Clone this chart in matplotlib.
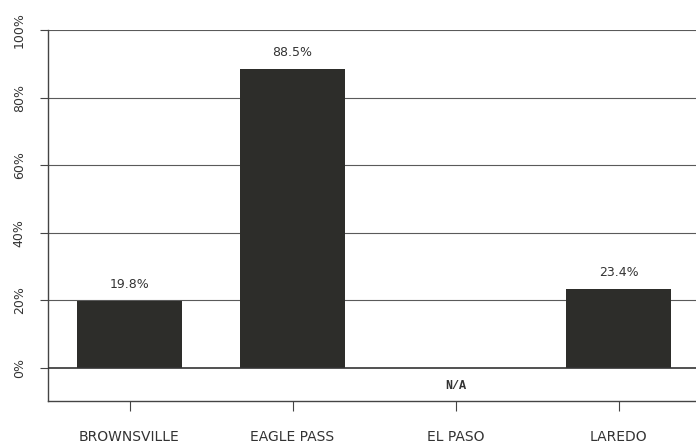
import matplotlib.pyplot as plt

cities = ["BROWNSVILLE", "EAGLE PASS", "EL PASO", "LAREDO"]
values = [19.8, 88.5, None, 23.4]
labels = ["19.8%", "88.5%", "N/A", "23.4%"]
yticks = [0, 20, 40, 60, 80, 100]
ytick_labels = ["0%", "20%", "40%", "60%", "80%", "100%"]

fig = plt.figure(figsize=(6.96, 4.43), dpi=100)
ax = fig.add_axes([48 / 696, 42 / 443, 652 / 696, 371 / 443])

x = list(range(len(cities)))
heights = [v if v is not None else 0 for v in values]
ax.bar(x, heights, width=0.65, color="#2d2d2a", zorder=3)

for xi, v, lab in zip(x, values, labels):
    if v is None:
        ax.text(xi, -5.3, lab, ha="center", va="center", fontsize=8.5,
                family="Liberation Mono", fontweight="bold", color="#333333")
    else:
        ax.text(xi, v + 3, lab, ha="center", va="bottom", fontsize=9,
                color="#333333")

ax.set_xlim(-0.5, 3.5)
ax.set_ylim(-9.8, 100)
ax.set_yticks(yticks)
ax.set_yticklabels(ytick_labels, rotation=90, va="center", fontsize=9,
                   color="#333333")
ax.set_xticks(x)
ax.set_xticklabels(cities, fontsize=10, color="#333333")

for y in yticks[1:]:
    ax.axhline(y, color="#5a5a5a", lw=0.8, zorder=1)
ax.axhline(0, color="#333333", lw=1.2, zorder=4)

ax.spines["right"].set_visible(False)
ax.spines["top"].set_visible(False)
for s in ["left", "bottom"]:
    ax.spines[s].set_color("#444444")
    ax.spines[s].set_linewidth(1.0)

ax.tick_params(axis="y", length=6, width=0.8, color="#444444", pad=10)
ax.tick_params(axis="x", length=7, width=0.8, color="#444444", pad=14)

fig.savefig("out.png", dpi=100, facecolor="white")
